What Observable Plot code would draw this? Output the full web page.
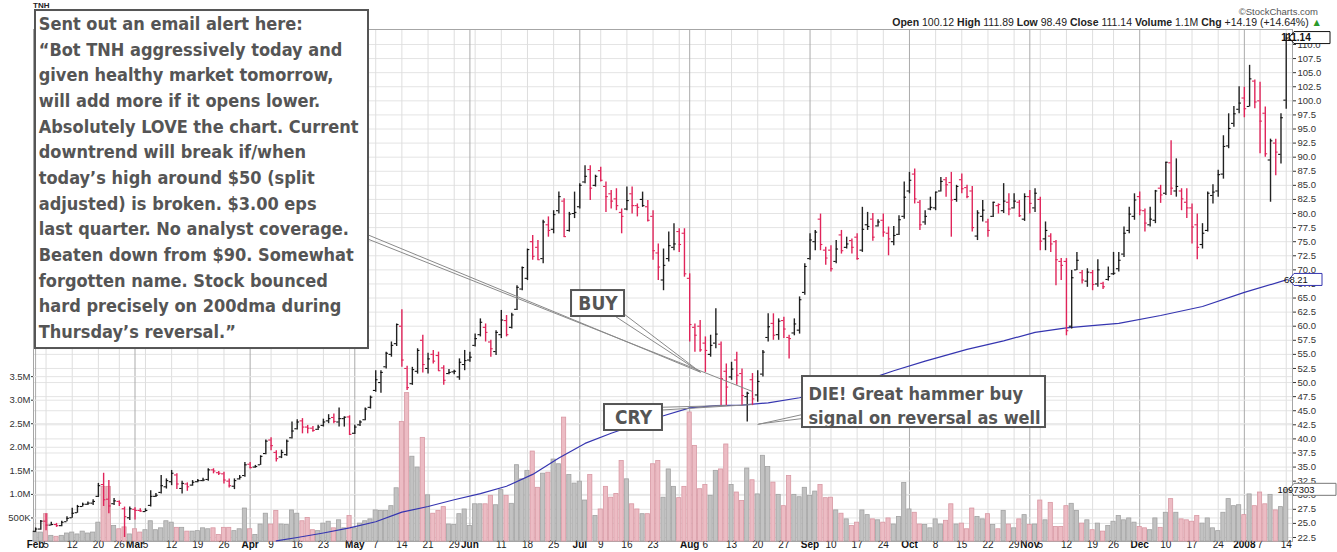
<!DOCTYPE html>
<html><head><meta charset="utf-8">
<script src="https://cdn.jsdelivr.net/npm/d3@7"></script>
<script src="https://cdn.jsdelivr.net/npm/@observablehq/plot@0.6"></script>
<style>
body{margin:0;background:#fff;}
#chart{position:relative;width:1337px;height:552px;overflow:hidden;font-family:"Liberation Sans",Arial,sans-serif;background:#fff;}
#chart svg{position:absolute;left:0;top:0;}
#sc{position:absolute;right:19px;top:6px;font-size:9.5px;color:#555;}
#hdr{position:absolute;right:15px;top:16px;font-size:10.5px;color:#222;white-space:nowrap;}
#hdr b{font-weight:bold;}
#sym{position:absolute;left:33px;top:1px;font-size:8px;font-weight:bold;color:#222;}
</style></head><body><div id="chart"><div id="sym">TNH</div></div>
<script>
// ---- daily OHLC (trading-day index 0 = 1 Feb 2007 ... 239 = 14 Jan 2008)
const openP = [
23.6,24.0,25.4,24.7,24.8,24.6,25.3,26.0,26.9,28.0,28.4,28.6,29.8,31.9,29.3,28.5,28.9,27.6,26.0,27.5,
27.3,27.1,28.2,29.8,30.5,31.5,32.4,33.6,31.2,32.0,31.8,32.4,32.6,32.8,34.5,34.0,33.8,32.5,31.6,32.9,
33.5,35.5,35.0,35.4,37.4,39.8,37.6,36.8,37.2,40.2,41.8,43.2,42.1,41.9,41.7,42.4,43.2,43.8,43.0,43.6,
43.9,41.0,42.5,43.4,45.6,48.6,50.0,52.8,55.0,56.9,60.0,52.5,49.8,52.0,57.5,52.5,55.0,54.8,52.6,51.6,
51.9,51.0,53.2,54.0,56.6,58.5,59.8,57.2,55.5,58.5,61.0,59.8,63.0,66.6,68.5,75.0,74.0,72.0,78.0,77.2,
80.5,82.2,77.0,80.0,81.2,85.6,87.8,85.0,87.6,84.8,83.5,82.6,80.2,80.8,83.5,81.4,82.5,81.2,79.5,73.0,
68.2,72.0,74.0,76.8,76.5,68.5,59.8,60.0,57.0,55.0,57.0,56.8,52.0,51.0,54.0,51.6,47.5,50.5,47.8,51.5,
58.0,60.5,58.5,61.0,58.0,58.8,59.3,66.0,72.0,75.0,79.0,73.5,73.5,71.5,76.2,74.0,75.2,75.8,73.5,78.0,
79.0,77.8,78.8,76.5,75.0,76.3,79.5,84.0,87.0,82.0,78.5,80.8,81.0,84.0,86.0,85.5,82.5,86.0,84.6,84.0,
76.0,79.5,78.5,79.5,81.4,80.5,82.0,81.0,82.0,79.0,83.0,81.0,82.5,75.5,76.0,75.0,71.5,71.5,60.0,70.0,
69.5,68.0,69.5,67.5,67.6,68.3,69.3,70.2,72.8,77.0,79.5,83.0,80.5,78.0,78.8,84.5,83.6,89.0,84.0,84.0,
82.0,81.0,78.0,74.5,77.0,83.2,84.0,87.0,92.0,96.0,98.5,100.5,99.0,103.5,100.0,97.8,89.5,92.5,90.5,100.12];
const highP = [
24.2,25.5,26.7,25.2,25.0,25.4,26.2,27.7,28.2,28.6,28.8,29.2,32.1,33.9,32.6,29.4,29.0,27.9,27.9,27.8,
27.6,27.6,30.8,30.3,33.5,32.9,34.4,33.8,32.5,32.2,32.6,32.8,33.0,34.7,34.7,34.2,34.1,32.9,32.9,33.5,
35.8,35.8,35.3,37.0,39.8,40.2,37.9,38.0,39.8,43.0,43.4,43.6,42.4,42.2,42.4,43.5,44.3,44.4,45.5,43.9,
44.1,42.4,43.2,45.5,47.6,52.1,52.1,55.4,57.2,60.4,62.9,52.9,52.7,56.0,58.4,55.2,55.7,55.4,53.0,52.3,
52.2,54.2,55.7,55.4,58.6,61.3,60.4,57.5,59.2,62.8,61.9,62.3,67.2,70.5,73.7,76.1,75.2,78.8,79.4,80.5,
83.8,82.6,80.2,83.8,85.3,88.5,88.5,86.8,88.2,85.6,84.1,84.4,80.8,84.7,84.7,81.7,83.8,82.3,80.5,74.6,
73.7,76.7,78.2,77.3,77.3,69.3,60.4,61.0,58.1,58.4,63.1,57.2,53.3,53.6,55.4,52.4,48.3,51.6,52.1,55.7,
62.2,62.2,61.3,61.6,58.4,61.3,65.2,71.1,76.4,77.0,79.9,74.0,74.3,75.2,77.0,75.8,75.5,76.4,81.1,80.2,
80.0,78.9,79.9,77.6,77.7,79.6,85.6,87.3,87.9,82.3,80.5,82.9,83.8,86.4,86.4,87.3,85.0,87.0,85.0,84.8,
80.5,82.3,79.0,82.0,81.7,85.3,83.5,83.5,82.3,83.5,84.1,84.4,82.9,78.5,76.4,75.2,72.0,72.0,69.9,73.1,
69.9,70.2,69.9,71.8,67.8,70.5,73.1,73.1,77.6,81.1,83.5,83.8,80.8,81.1,84.1,85.0,89.1,92.9,89.7,84.4,
84.4,81.7,79.9,78.2,83.8,85.1,87.7,93.8,97.7,99.0,102.5,102.4,106.3,103.7,103.3,98.9,93.2,93.2,97.7,111.89];
const lowP = [
23.4,23.8,23.7,24.6,24.3,24.4,25.3,25.9,26.8,27.9,28.2,28.2,29.6,28.0,26.7,28.2,28.0,22.5,25.5,25.6,
27.0,27.0,27.9,29.6,30.2,31.1,31.7,31.0,30.2,30.7,31.6,32.2,32.4,32.5,33.8,33.5,32.0,31.3,31.0,32.7,
33.2,34.7,34.8,35.3,37.2,37.9,35.9,36.5,36.9,40.0,41.6,40.9,40.9,41.2,41.5,42.1,42.7,42.7,42.1,42.1,
40.6,40.8,42.2,43.2,45.3,48.3,48.1,52.4,54.5,56.4,52.7,48.6,49.5,51.5,51.7,51.5,53.3,52.0,49.5,51.4,
51.4,50.4,52.1,53.6,56.3,58.1,57.2,54.5,54.8,57.8,58.1,59.5,62.8,66.3,68.1,71.7,71.7,71.1,75.8,76.4,
79.9,75.8,76.7,79.1,80.8,85.3,82.3,84.7,85.6,80.2,80.8,80.5,76.4,80.5,79.9,79.4,81.1,78.5,71.7,68.1,
66.3,71.4,73.4,73.1,68.7,57.2,55.4,55.4,51.8,54.5,56.0,45.9,45.9,50.4,49.5,45.9,43.0,45.9,46.5,51.0,
57.2,57.5,57.5,57.8,54.2,58.3,58.6,65.5,71.7,73.4,73.4,70.8,69.6,71.1,72.8,73.7,72.8,71.7,73.1,77.0,
75.1,77.6,75.8,72.5,74.3,76.1,79.0,83.5,81.7,77.0,77.9,80.5,80.5,83.8,82.9,75.8,82.0,83.5,82.6,76.7,
75.2,78.5,75.8,79.3,79.9,80.0,79.6,80.8,79.3,78.6,79.9,80.2,73.4,73.4,73.1,67.2,68.1,58.3,59.5,69.9,
67.5,66.9,66.3,66.9,66.5,68.0,69.0,69.6,72.2,76.4,78.8,79.6,76.7,77.6,78.2,81.8,83.2,83.2,82.9,80.5,
79.1,74.6,71.8,73.7,76.7,81.7,82.9,86.1,91.5,95.3,97.7,97.0,98.9,98.6,90.6,90.0,82.0,86.7,88.8,98.49];
const closeP = [
24.0,25.4,24.7,24.8,24.6,25.2,25.9,26.8,28.0,28.4,28.6,28.9,31.7,29.2,28.1,29.0,28.6,26.2,27.6,27.3,
27.2,27.3,29.8,30.0,31.7,32.6,33.9,32.0,32.1,31.5,32.3,32.6,32.7,34.5,34.3,33.9,32.7,31.7,32.6,33.2,
35.4,34.9,35.1,36.9,39.6,38.8,36.5,37.6,39.6,41.4,43.0,42.1,41.9,41.5,42.1,43.0,43.6,43.1,43.6,43.85,
40.8,42.1,43.0,45.3,47.4,50.5,51.8,55.2,56.6,60.3,54.0,49.1,52.3,55.7,53.2,54.2,53.8,52.1,50.4,51.8,
52.0,53.6,53.9,54.5,57.8,60.7,58.9,56.0,58.9,61.1,58.5,62.0,66.9,70.4,73.6,72.4,71.8,78.5,77.0,79.8,
83.0,75.9,79.9,80.2,85.0,86.6,84.5,86.6,85.9,83.0,82.2,81.4,79.5,82.3,81.4,81.1,81.4,78.8,73.4,70.5,
70.8,74.3,74.6,74.5,69.3,60.3,58.4,55.8,55.7,56.6,58.6,50.7,49.2,52.4,51.3,47.7,48.1,47.1,50.2,55.4,
59.9,58.4,60.9,59.5,57.8,60.4,64.7,70.6,75.3,76.7,74.5,72.1,70.2,73.7,73.4,74.6,74.0,72.0,77.2,77.7,
75.8,78.5,76.7,75.5,76.1,78.9,82.9,85.9,82.6,78.0,79.5,81.1,83.8,85.7,85.1,82.4,84.8,84.4,83.0,77.5,
80.1,80.6,77.0,82.0,81.6,82.2,80.8,82.2,79.6,83.0,81.8,83.6,75.1,77.0,74.6,71.8,70.8,59.2,68.6,71.7,
68.2,69.6,67.4,70.0,67.0,68.8,69.4,71.7,76.5,79.9,82.4,80.6,78.3,79.0,84.0,83.3,89.1,84.5,84.8,82.6,
81.0,77.6,74.0,76.5,83.6,83.8,86.9,91.9,95.1,97.7,99.6,98.6,103.9,99.8,96.4,90.6,92.9,90.9,97.0,111.14];
// volume, millions of shares
const volumeM = [
.19,.19,.58,.12,.10,.12,.17,.19,.15,.21,.17,.19,.40,1.16,1.16,.33,.26,.30,.15,.26,
.19,.24,.43,.24,.28,.43,.40,.29,.29,.21,.21,.22,.28,.26,.28,.14,.29,.29,.22,.26,
.70,.26,.14,.36,.59,.36,.65,.36,.35,.66,.59,.43,.50,.24,.22,.38,.42,.28,.45,.28,
.54,.28,.38,.43,.47,.66,.65,.65,.75,1.13,2.54,3.15,1.80,1.57,2.20,.98,.59,.65,.73,.36,
.35,.58,.68,.33,.79,.79,.79,.97,.77,1.09,.97,.80,1.62,1.32,1.50,1.91,1.14,1.44,1.46,1.74,
1.64,2.63,1.41,1.23,1.27,.87,1.41,.54,.68,1.16,.93,1.01,1.71,1.32,.79,.68,.58,.58,1.64,1.71,
.93,1.53,1.16,.92,1.16,2.74,2.03,1.11,1.20,.97,1.50,1.53,2.06,1.20,1.04,.86,1.55,1.30,1.00,1.82,
1.58,1.25,.99,.75,1.39,.99,.94,1.14,.97,1.06,1.20,.92,.93,.66,.59,.47,.33,.40,.66,.56,
.47,.45,.40,.49,.36,.52,1.24,.68,.61,.36,.35,.28,.47,.36,.44,.79,.36,.38,.26,.70,
.52,.47,.58,.35,.26,.65,.36,.28,.47,.56,.35,.36,.87,.45,.82,.31,.31,.75,.80,.65,
.38,.45,.24,.38,.21,.33,.42,.54,.45,.49,.40,.31,.28,.24,.49,.29,.61,.90,.61,.47,
.45,.42,.54,.38,.49,.28,.22,.61,.90,.75,.77,.56,1.00,.75,1.04,.79,.99,.66,.73,1.10];
// 200-day moving average, read at these trading-day indexes
const maIdx = [46,50,55,60,65,70,75,80,85,90,95,100,105,110,115,120,125,130,135,140,146,152,158,164,170,178,185,191,197,203,207,215,223,231,239];
const maVal = [21.9,22.5,23.3,24.2,25.3,27.0,28.0,29.2,30.3,31.6,33.7,36.6,39.2,41.0,42.6,44.1,45.5,45.9,46.0,46.4,47.3,48.6,50.2,52.1,53.8,55.9,57.4,58.9,59.7,60.2,60.5,61.9,63.5,66.0,68.21];
// axis ticks
const priceTicks = [22.5,25,27.5,30,32.5,35,37.5,40,42.5,45,47.5,50,52.5,55,57.5,60,62.5,65,67.5,70,72.5,75,77.5,80,82.5,85,87.5,90,92.5,95,97.5,100,102.5,105,107.5,110];
const volTicks = [500000,1000000,1500000,2000000,2500000,3000000,3500000];
const volLabels = ["500K","1.0M","1.5M","2.0M","2.5M","3.0M","3.5M"];
const weekIdx = [2,7,12,16,21,26,31,36,45,50,55,60,65,70,75,80,84,89,94,99,108,113,118,123,128,133,138,143,152,157,162,172,177,182,187,192,197,202,206,216,221,226,230,234,239];
const weekLabels = ["5","12","20","26","5","12","19","26","9","16","23","","7","14","21","29","","11","18","25","9","16","23","","6","13","20","27","10","17","24","8","15","22","29","5","12","19","26","10","17","24","","7","14"];
const monthIdx = [0,19,41,61,83,104,125,148,167,190,211,231];
const monthLabels = ["Feb","Mar","Apr","May","Jun","Jul","Aug","Sep","Oct","Nov","Dec","2008"];
// annotations
const emailText = ["Sent out an email alert here:","\u201cBot TNH aggressively today and","given healthy market tomorrow,","will add more if it opens lower.","Absolutely LOVE the chart. Current","downtrend will break if/when","today\u2019s high around $50 (split","adjusted) is broken. $3.00 eps","last quarter. No analyst coverage.","Beaten down from $90. Somewhat","forgotten name. Stock bounced","hard precisely on 200dma during","Thursday\u2019s reversal.\u201d"].join("\n");
const noteBoxes = [
  {x1:-0.02,x2:63.62,y1:116.03,y2:56.04},
  {x1:102.42,x2:112.55,y1:66.33,y2:61.72},
  {x1:108.72,x2:119.80,y1:46.10,y2:41.49},
  {x1:146.56,x2:193.00,y1:51.07,y2:42.02}];
const noteTextsLeft = [
  {x:0.6,y:115.8,t:emailText,lh:1.425},
  {x:147.7,y:50.05,t:"DIE! Great hammer buy\nsignal on reversal as well",lh:1.36}];
const noteTextsMid = [
  {x:107.48,y:64.03,t:"BUY"},
  {x:114.26,y:43.79,t:"CRY"}];
const noteLinks = [
  {x1:63.62,y1:76.17,x2:127.07,y2:51.83},
  {x1:63.62,y1:75.42,x2:137.0,y2:48.41},
  {x1:110.83,y1:61.72,x2:127.07,y2:51.83},
  {x1:112.41,y1:62.20,x2:127.07,y2:51.83},
  {x1:119.80,y1:45.62,x2:132.17,y2:45.92},
  {x1:119.80,y1:45.13,x2:136.95,y2:46.10},
  {x1:146.56,y1:44.33,x2:137.96,y2:42.55},
  {x1:146.56,y1:43.62,x2:138.15,y2:42.64}];

// ---- build
const bars = closeP.map((c, i) => ({i, o: openP[i], h: highP[i], l: lowP[i], c, v: volumeM[i] * 1e6, up: i === 0 || c >= closeP[i - 1]}));
const ma = maIdx.map((i, k) => ({i, v: maVal[k]}));
const wk = weekIdx.map((i, k) => ({i, t: weekLabels[k]}));
const mo = monthIdx.map((i, k) => ({i, t: monthLabels[k]}));

const W = 1337, H = 552;
const dims = {width: W, height: H, marginTop: 29, marginRight: 45, marginBottom: 11, marginLeft: 33};
const xDomain = [-0.4, 240.2];
const priceDomain = [21.79, 112.66];
const volDomain = [0, 10.87e6];
const FONT = "'Liberation Sans', Arial, sans-serif";
const NOTEFONT = "'Liberation Sans Narrow', 'Arial Narrow', 'DejaVu Sans Condensed', sans-serif";
const NOTESIZE = 18;
const baseStyle = {background: "transparent", fontFamily: FONT, fontSize: "9.5px", color: "#333", overflow: "visible"};

function tag(value, label, stroke, bold, w) {
  return (index, scales, values, d) => {
    const y = scales.y(value), x0 = d.width - d.marginRight;
    const g = d3.create("svg:g");
    g.append("path").attr("d", `M${x0 - 3},${y} L${x0 + 2},${y - 6} H${x0 + w} V${y + 6} H${x0 + 2} Z`)
      .attr("fill", "#fff").attr("stroke", stroke).attr("stroke-width", 1);
    g.append("text").attr("x", x0 + 4).attr("y", y).attr("dy", "0.35em")
      .attr("font-size", bold ? 10 : 9.5).attr("font-weight", bold ? "bold" : "normal")
      .attr("font-family", FONT).attr("fill", "#111").text(label);
    return g.node();
  };
}

const gridPlot = Plot.plot({
  ...dims, style: baseStyle,
  x: {domain: xDomain, axis: null},
  y: {domain: priceDomain, axis: "right", ticks: priceTicks, tickFormat: d3.format(".1f"), tickSize: 3, tickPadding: 2, label: null},
  marks: [
    Plot.ruleY(priceTicks, {stroke: "#e4e4e4"}),
    Plot.ruleX(weekIdx, {stroke: "#dedede"}),
    Plot.ruleX(monthIdx, {stroke: "#ababab"}),
    Plot.frame({stroke: "#a6a6a6"}),
    Plot.text(wk, {x: "i", text: "t", frameAnchor: "bottom", dy: 6, fontSize: 10, fill: "#222"}),
    Plot.text(mo, {x: "i", text: "t", frameAnchor: "bottom", dy: 6, fontSize: 10, fontWeight: "bold", fill: "#111"})
  ]
});

const volPlot = Plot.plot({
  ...dims, style: baseStyle,
  color: {type: "identity"},
  x: {domain: xDomain, axis: null},
  y: {domain: volDomain, axis: "left", ticks: volTicks, tickFormat: (d) => volLabels[volTicks.indexOf(d)], tickSize: 2, tickPadding: 1, label: null},
  marks: [
    Plot.ruleY(volTicks, {stroke: "#e4e4e4"}),
    Plot.rect(bars, {x1: (d) => d.i - 0.4, x2: (d) => d.i + 0.4, y1: 0, y2: "v",
      fill: (d) => d.up ? "#c2c2c2" : "#ecbcc4", stroke: (d) => d.up ? "#a2a2a2" : "#d898a3", strokeWidth: 0.8}),
    tag(1097303, "1097303", "#777", false, 44)
  ]
});

const pricePlot = Plot.plot({
  ...dims, style: baseStyle,
  color: {type: "identity"},
  x: {domain: xDomain, axis: null},
  y: {domain: priceDomain, axis: null},
  marks: [
    Plot.line(ma, {x: "i", y: "v", stroke: "#3535b0", strokeWidth: 1.2}),
    Plot.ruleX(bars, {x: "i", y1: "l", y2: "h", stroke: (d) => d.up ? "#222" : "#e0245a", strokeWidth: 1.4}),
    Plot.ruleY(bars, {y: "o", x1: (d) => d.i - 0.45, x2: "i", stroke: (d) => d.up ? "#111" : "#e0245a", strokeWidth: 1.1}),
    Plot.ruleY(bars, {y: "c", x1: "i", x2: (d) => d.i + 0.45, stroke: (d) => d.up ? "#111" : "#e0245a", strokeWidth: 1.1}),
    Plot.link(noteLinks, {x1: "x1", y1: "y1", x2: "x2", y2: "y2", stroke: "#8a8a8a", strokeWidth: 1}),
    Plot.rect(noteBoxes, {x1: "x1", x2: "x2", y1: "y1", y2: "y2", fill: "#fff", stroke: "#555", strokeWidth: 2}),
    Plot.text([noteTextsLeft[0]], {x: "x", y: "y", text: "t", textAnchor: "start", lineAnchor: "top", lineHeight: noteTextsLeft[0].lh,
      fontSize: NOTESIZE, fontWeight: "bold", fontFamily: NOTEFONT, fill: "#555"}),
    Plot.text([noteTextsLeft[1]], {x: "x", y: "y", text: "t", textAnchor: "start", lineAnchor: "top", lineHeight: noteTextsLeft[1].lh,
      fontSize: NOTESIZE, fontWeight: "bold", fontFamily: NOTEFONT, fill: "#555"}),
    Plot.text(noteTextsMid, {x: "x", y: "y", text: "t", textAnchor: "middle", lineAnchor: "middle",
      fontSize: 19, fontWeight: "bold", fontFamily: NOTEFONT, fill: "#555"}),
    tag(111.14, "111.14", "#111", true, 38),
    tag(68.21, "68.21", "#3535b0", false, 30)
  ]
});

const chart = document.getElementById("chart");
chart.appendChild(gridPlot);
chart.appendChild(volPlot);
chart.appendChild(pricePlot);
const sc = document.createElement("div");
sc.id = "sc"; sc.textContent = "\u00a9StockCharts.com";
chart.appendChild(sc);
const hdr = document.createElement("div");
hdr.id = "hdr";
hdr.innerHTML = "<b>Open</b> 100.12 <b>High</b> 111.89 <b>Low</b> 98.49 <b>Close</b> 111.14 <b>Volume</b> 1.1M <b>Chg</b> +14.19 (+14.64%) <span style='color:#2a9a2a'>\u25b2</span>";
chart.appendChild(hdr);
</script></body></html>
